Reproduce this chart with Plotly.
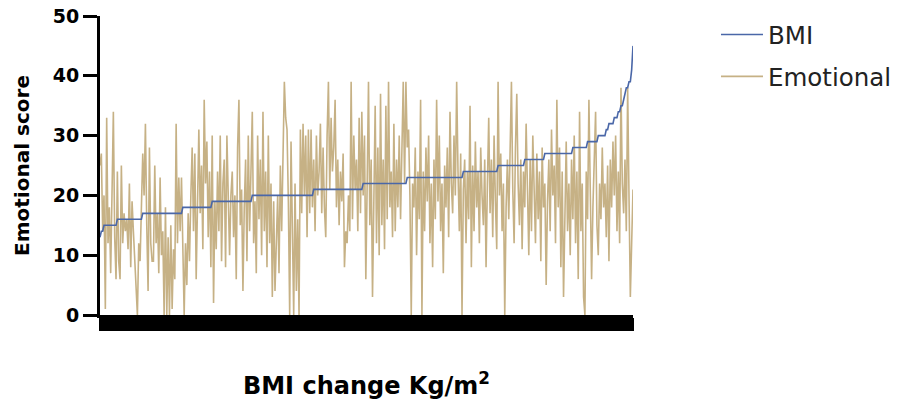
import plotly.graph_objects as go

# Subject index (sorted by BMI change)
n_subjects = 400
subjects = list(range(n_subjects))

bmi = ([13, 14, 14] + [15] * 10 + [16] * 19 + [17] * 30 + [18] * 22 + [19] * 30 +
       [20] * 46 + [21] * 37 + [22] * 33 + [23] * 42 + [24] * 26 + [25] * 20 +
       [26] * 15 + [27] * 21 + [28] * 11 + [29] * 8 + [30] * 6 +
       [31, 31, 32, 32, 32, 32, 33, 33, 33, 34, 34, 35, 35, 36, 37, 38, 38, 39, 39, 41, 45])

emotional = [
    25, 27, 14, 20, 1, 33, 12, 18, 7, 22, 34, 13, 6, 24, 9, 6, 25, 12, 17, 14,
    16, 11, 22, 8, 19, 14, 10, 6, 0, 12, 9, 18, 27, 20, 32, 15, 4, 28, 12, 9,
    9, 25, 12, 17, 7, 23, 10, 14, 0, 18, 0, 13, 0, 15, 1, 11, 6, 32, 12, 23,
    14, 23, 8, 0, 12, 5, 17, 9, 20, 28, 14, 27, 6, 21, 31, 17, 25, 11, 36, 22,
    29, 13, 24, 8, 30, 2, 19, 11, 24, 14, 30, 9, 22, 26, 8, 30, 18, 10, 20, 24,
    13, 20, 6, 28, 36, 15, 21, 4, 18, 26, 9, 30, 14, 22, 34, 12, 19, 7, 30, 16,
    26, 10, 34, 14, 24, 8, 30, 12, 22, 3, 19, 4, 15, 20, 7, 25, 14, 30, 39, 33,
    31, 19, 0, 29, 14, 0, 22, 4, 16, 0, 31, 17, 32, 20, 30, 13, 31, 17, 31, 18,
    26, 14, 30, 20, 24, 32, 17, 28, 18, 13, 30, 39, 21, 33, 24, 28, 36, 18, 26, 15,
    24, 19, 27, 8, 14, 12, 20, 14, 39, 16, 30, 21, 26, 14, 33, 17, 34, 20, 30, 6,
    22, 39, 15, 26, 3, 24, 35, 12, 28, 10, 37, 15, 26, 11, 35, 16, 39, 18, 24, 13,
    32, 14, 26, 18, 30, 16, 27, 39, 22, 39, 28, 31, 20, 0, 22, 18, 28, 10, 24, 16,
    36, 0, 24, 14, 28, 19, 30, 12, 22, 8, 26, 16, 36, 19, 30, 14, 22, 7, 25, 18,
    28, 13, 34, 22, 17, 30, 20, 39, 24, 14, 27, 0, 21, 26, 12, 24, 16, 35, 8, 25,
    14, 29, 18, 24, 12, 28, 20, 15, 26, 8, 22, 33, 17, 26, 13, 30, 19, 11, 39, 20,
    27, 14, 22, 0, 18, 26, 16, 30, 39, 21, 12, 28, 37, 22, 15, 26, 11, 24, 18, 32,
    17, 10, 26, 14, 30, 20, 12, 27, 16, 24, 9, 28, 18, 22, 5, 19, 26, 14, 31, 20,
    25, 12, 36, 18, 28, 8, 24, 3, 20, 29, 14, 22, 10, 26, 16, 30, 12, 24, 6, 34,
    14, 22, 3, 0, 24, 16, 36, 20, 6, 18, 26, 34, 15, 10, 22, 16, 28, 18, 22, 13,
    25, 9, 26, 18, 29, 20, 30, 14, 24, 12, 38, 22, 17, 26, 14, 38, 20, 3, 12, 21,
]

y_ticks = [0, 10, 20, 30, 40, 50]

FONT = "DejaVu Sans, Verdana, sans-serif"

fig = go.Figure()
fig.add_trace(go.Scatter(
    x=subjects, y=emotional, mode="lines", name="Emotional",
    line=dict(color="#c6b185", width=1.6), legendrank=2, legendgroup="e",
))
fig.add_trace(go.Scatter(
    x=subjects, y=bmi, mode="lines", name="BMI",
    line=dict(color="#4a67a8", width=1.6), legendrank=1, legendgroup="b",
))

fig.update_layout(
    width=900, height=404,
    margin=dict(l=100, r=267, t=16, b=89, autoexpand=False),
    paper_bgcolor="white", plot_bgcolor="white",
    font=dict(family=FONT, color="black"),
    showlegend=True,
    legend=dict(
        x=1.1557, y=1.013, xanchor="left", yanchor="top",
        font=dict(size=24.5, color="#222222", family=FONT),
        tracegroupgap=7, itemwidth=42, bgcolor="rgba(0,0,0,0)",
    ),
    xaxis=dict(
        range=[0, n_subjects - 1], automargin=False,
        showgrid=False, zeroline=False,
        showline=True, linecolor="black", linewidth=3,
        ticks="outside", tickmode="linear", tick0=0, dtick=1,
        ticklen=13, tickwidth=2, tickcolor="black",
        showticklabels=False,
        title=dict(text="BMI change Kg/m<sup>2</sup>",
                   font=dict(size=24, weight="bold", family=FONT), standoff=48),
    ),
    yaxis=dict(
        range=[0, 50], automargin=False,
        showgrid=False, zeroline=False,
        showline=True, linecolor="black", linewidth=3,
        ticks="outside", tickvals=y_ticks, ticklen=14, tickwidth=2.5,
        tickcolor="black",
        tickfont=dict(size=19, weight="bold", family=FONT),
        title=dict(text="Emotional score",
                   font=dict(size=20, weight="bold", family=FONT), standoff=18),
    ),
)

fig.write_html("out.html", config={"displayModeBar": False},
               post_script="document.body.style.margin='0';")
